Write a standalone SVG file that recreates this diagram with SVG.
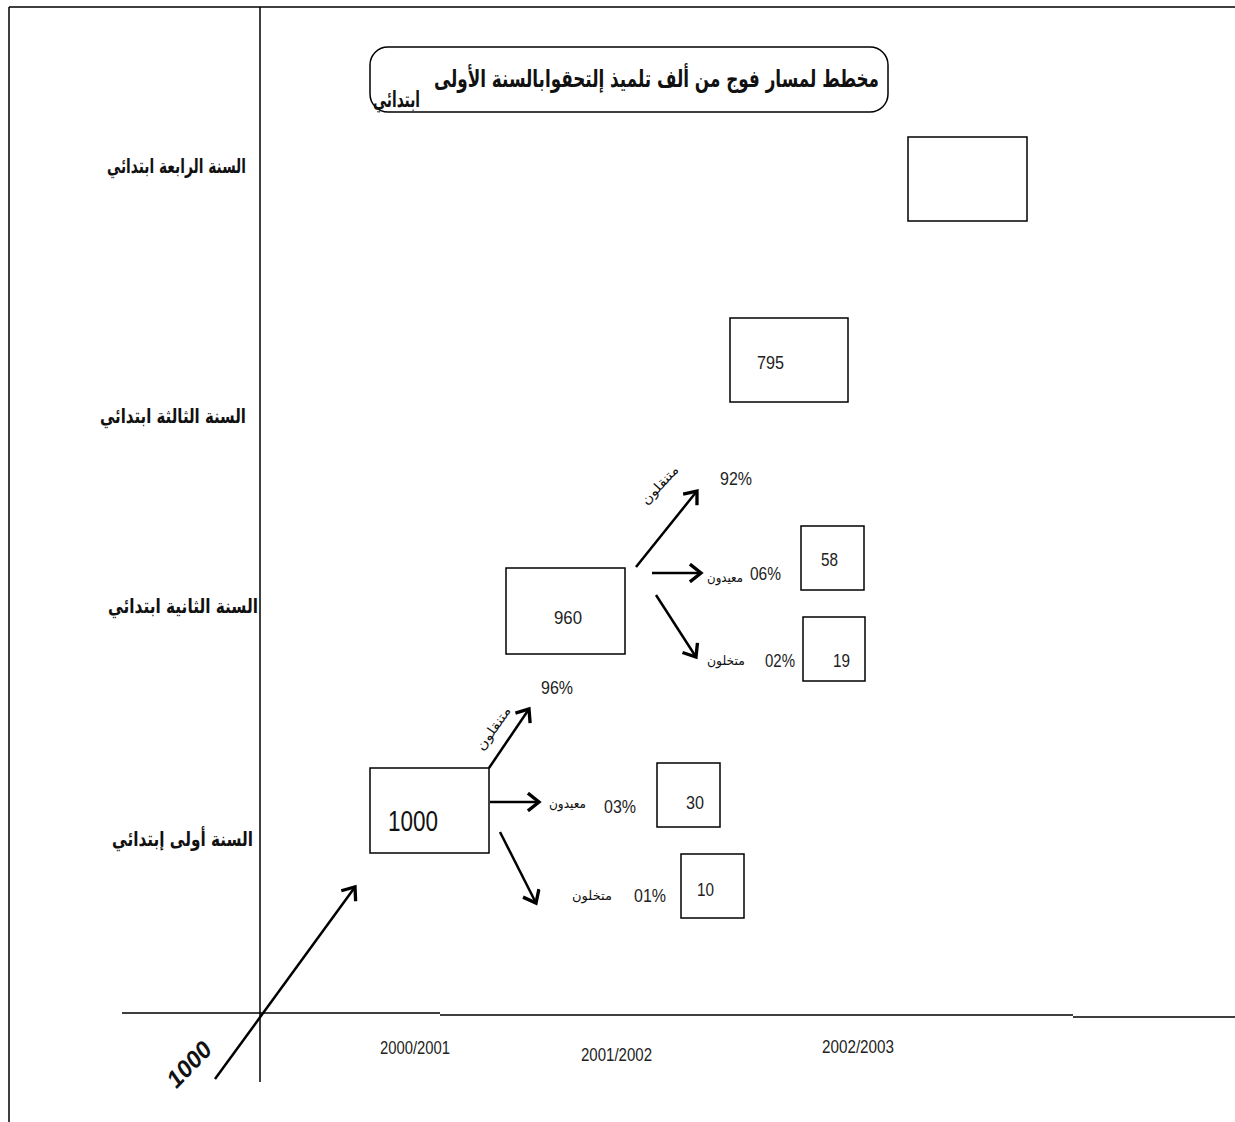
<svg xmlns="http://www.w3.org/2000/svg" width="1235" height="1122" viewBox="0 0 1235 1122">
<style>
.box{fill:#fff;stroke:#000;stroke-width:1.5}
.num{font-family:"Liberation Sans",Arial,sans-serif;font-size:19px;fill:#222}
.ar{font-family:"DejaVu Sans","Noto Sans",sans-serif;fill:#111;direction:rtl}
.lbl{font-size:20px;font-weight:bold}
.sm{font-size:13px}
.ax{stroke:#000;stroke-width:1.5;fill:none}
.arr{stroke:#000;stroke-width:2.5;fill:none;marker-end:url(#ch)}
</style>
<defs>
<marker id="ch" markerUnits="userSpaceOnUse" markerWidth="20" markerHeight="20" viewBox="-12 -9 14 18" refX="0" refY="0" orient="auto">
<path d="M-10,-8 L0,0 L-10,8" fill="none" stroke="#000" stroke-width="3"/>
</marker>
</defs>
<rect width="1235" height="1122" fill="#fff"/>
<g id="frame">
<path class="ax" d="M9,7 H1235 M9,7 V1122"/>
<path class="ax" d="M260,7 V1082"/>
<path class="ax" d="M122,1013 H440 M440,1015 H1073 M1073,1017 H1235"/>
</g>
<g id="title">
<rect x="370" y="47" width="518" height="65" rx="18" fill="#fff" stroke="#000" stroke-width="1.5"/>
<text class="ar" x="879" y="87" font-size="24" font-weight="bold" textLength="445" lengthAdjust="spacingAndGlyphs">مخطط لمسار فوج من ألف تلميذ إلتحقوابالسنة الأولى</text>
<text class="ar" x="420" y="107" font-size="22" font-weight="bold" textLength="47" lengthAdjust="spacingAndGlyphs">ابتدائي</text>
</g>
<g id="rowlabels">
<text class="ar lbl" x="246" y="173" textLength="139" lengthAdjust="spacingAndGlyphs">السنة الرابعة ابتدائي</text>
<text class="ar lbl" x="246" y="423" textLength="146" lengthAdjust="spacingAndGlyphs">السنة الثالثة ابتدائي</text>
<text class="ar lbl" x="258" y="613" textLength="150" lengthAdjust="spacingAndGlyphs">السنة الثانية ابتدائي</text>
<text class="ar lbl" x="253" y="846" textLength="141" lengthAdjust="spacingAndGlyphs">السنة أولى إبتدائي</text>
</g>
<g id="n-empty"><rect class="box" x="908" y="137" width="119" height="84"/></g>
<g id="n-795"><rect class="box" x="730" y="318" width="118" height="84"/><text class="num" x="757" y="369" textLength="27" lengthAdjust="spacingAndGlyphs">795</text></g>
<g id="n-960"><rect class="box" x="506" y="568" width="119" height="86"/><text class="num" x="554" y="624" textLength="28" lengthAdjust="spacingAndGlyphs">960</text></g>
<g id="n-58"><rect class="box" x="801" y="526" width="63" height="64"/><text class="num" x="821" y="566" textLength="17" lengthAdjust="spacingAndGlyphs">58</text></g>
<g id="n-19"><rect class="box" x="803" y="617" width="62" height="64"/><text class="num" x="833" y="667" textLength="17" lengthAdjust="spacingAndGlyphs">19</text></g>
<g id="n-1000"><rect class="box" x="370" y="768" width="119" height="85"/><text x="388" y="831" font-family="Liberation Sans,sans-serif" font-size="29" fill="#111" textLength="50" lengthAdjust="spacingAndGlyphs">1000</text></g>
<g id="n-30"><rect class="box" x="657" y="763" width="63" height="64"/><text class="num" x="686" y="809" textLength="18" lengthAdjust="spacingAndGlyphs">30</text></g>
<g id="n-10"><rect class="box" x="681" y="854" width="63" height="64"/><text class="num" x="697" y="896" textLength="17" lengthAdjust="spacingAndGlyphs">10</text></g>
<g id="connectors">
<line class="arr" x1="215" y1="1079" x2="355" y2="887"/>
<line class="arr" x1="489" y1="768" x2="529" y2="709"/>
<line class="arr" x1="490" y1="802" x2="539" y2="802"/>
<line class="arr" x1="500" y1="832" x2="536" y2="903"/>
<line class="arr" x1="636" y1="567" x2="697" y2="491" stroke-width="3"/>
<line class="arr" x1="652" y1="573" x2="701" y2="573"/>
<line class="arr" x1="656" y1="595" x2="696" y2="657"/>
</g>
<g id="labels">
<text class="ar sm" transform="translate(497,731) rotate(-55)" text-anchor="middle" textLength="50" lengthAdjust="spacingAndGlyphs">متنقلون</text>
<text class="num" x="541" y="694" textLength="32" lengthAdjust="spacingAndGlyphs">96%</text>
<text class="ar sm" x="586" y="808" textLength="37" lengthAdjust="spacingAndGlyphs">معيدون</text>
<text class="num" x="604" y="813" textLength="32" lengthAdjust="spacingAndGlyphs">03%</text>
<text class="ar sm" x="612" y="900" textLength="40" lengthAdjust="spacingAndGlyphs">متخلون</text>
<text class="num" x="634" y="902" textLength="32" lengthAdjust="spacingAndGlyphs">01%</text>
<text class="ar sm" transform="translate(663,488) rotate(-47)" text-anchor="middle" textLength="48" lengthAdjust="spacingAndGlyphs">متنقلون</text>
<text class="num" x="720" y="485" textLength="32" lengthAdjust="spacingAndGlyphs">92%</text>
<text class="ar sm" x="743" y="582" textLength="36" lengthAdjust="spacingAndGlyphs">معيدون</text>
<text class="num" x="750" y="580" textLength="31" lengthAdjust="spacingAndGlyphs">06%</text>
<text class="ar sm" x="745" y="665" textLength="38" lengthAdjust="spacingAndGlyphs">متخلون</text>
<text class="num" x="765" y="667" textLength="30" lengthAdjust="spacingAndGlyphs">02%</text>
<text transform="translate(195,1070) rotate(-46)" text-anchor="middle" font-family="Liberation Sans,sans-serif" font-size="24" font-style="italic" font-weight="bold" fill="#111">1000</text>
<text class="num" x="380" y="1054" textLength="70" lengthAdjust="spacingAndGlyphs">2000/2001</text>
<text class="num" x="581" y="1061" textLength="71" lengthAdjust="spacingAndGlyphs">2001/2002</text>
<text class="num" x="822" y="1053" textLength="72" lengthAdjust="spacingAndGlyphs">2002/2003</text>
</g>
</svg>
